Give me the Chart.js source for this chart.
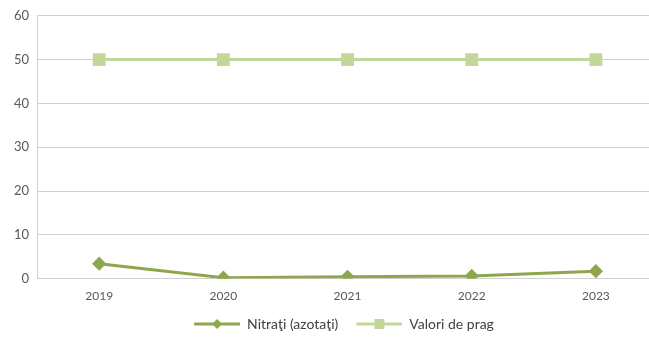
<!DOCTYPE html>
<html>
<head>
<meta charset="utf-8">
<script src="https://cdn.jsdelivr.net/npm/chart.js@4"></script>
<style>
  html, body { margin: 0; padding: 0; background: #fff; overflow: hidden; }
  #wrap { width: 668px; height: 342px; }
</style>
</head>
<body>
<div id="wrap"><canvas id="LineChart"></canvas></div>
<script>
// Data
const years = ['2019', '2020', '2021', '2022', '2023'];
const nitrati = [3.4, 0.2, 0.4, 0.6, 1.7];
const valoriPrag = [50, 50, 50, 50, 50];
const yTicks = [0, 10, 20, 30, 40, 50, 60];

const darkGreen = '#8ea74f';
const lightGreen = '#c4d79b';

// small legend symbols: a line with the marker in the middle (blank lead-in for spacing)
function legendIcon(color, shape) {
    const c = document.createElement('canvas');
    c.width = 60; c.height = 14;
    const g = c.getContext('2d');
    g.strokeStyle = color; g.lineWidth = 3;
    g.beginPath(); g.moveTo(14, 7); g.lineTo(60, 7); g.stroke();
    g.fillStyle = color;
    if (shape === 'diamond') {
        g.beginPath(); g.moveTo(37, 2); g.lineTo(42, 7); g.lineTo(37, 12); g.lineTo(32, 7); g.closePath(); g.fill();
    } else {
        g.fillRect(32, 2, 10, 10);
    }
    return c;
}

const ctx_LineChart = document.getElementById('LineChart').getContext('2d');

const chart = new Chart(ctx_LineChart, {
    type: 'line',
    data: {
        labels: years,
        datasets: [{
            label: 'Nitraţi (azotaţi)',
            data: nitrati,
            borderColor: darkGreen,
            backgroundColor: darkGreen,
            borderWidth: 3,
            pointStyle: 'rectRot',
            pointRadius: 5,
            tension: 0
        }, {
            label: 'Valori de prag',
            data: valoriPrag,
            borderColor: lightGreen,
            backgroundColor: lightGreen,
            borderWidth: 3,
            pointStyle: 'rect',
            pointRadius: 7,
            tension: 0
        }]
    },
    options: {
        responsive: true,
        maintainAspectRatio: false,
        animation: false,
        layout: { padding: { left: 6, right: 0, top: -5, bottom: 1 } },
        plugins: {
            legend: {
                position: 'bottom',
                labels: {
                    color: '#404040',
                    font: { family: 'Lato', size: 14 },
                    usePointStyle: true,
                    pointStyleWidth: 60,
                    padding: 4,
                    generateLabels: (ch) => ch.data.datasets.map((ds, i) => ({
                        text: ds.label,
                        fontColor: '#404040',
                        pointStyle: legendIcon(ds.borderColor, i === 0 ? 'diamond' : 'square'),
                        datasetIndex: i,
                        hidden: false,
                        lineWidth: 0
                    }))
                }
            },
            tooltip: { enabled: false }
        },
        scales: {
            x: {
                offset: true,
                grid: { display: false, drawTicks: false },
                border: { color: '#d0d0d0' },
                ticks: { color: '#595959', font: { family: 'Lato', size: 12 }, padding: 10 }
            },
            y: {
                min: 0,
                max: 60,
                afterBuildTicks: (axis) => { axis.ticks = yTicks.map(v => ({ value: v })); },
                grid: { color: '#d0d0d0', drawTicks: false },
                border: { color: '#d0d0d0' },
                ticks: { color: '#595959', font: { family: 'Lato', size: 13 }, padding: 8 }
            }
        }
    }
});
</script>
</body>
</html>
